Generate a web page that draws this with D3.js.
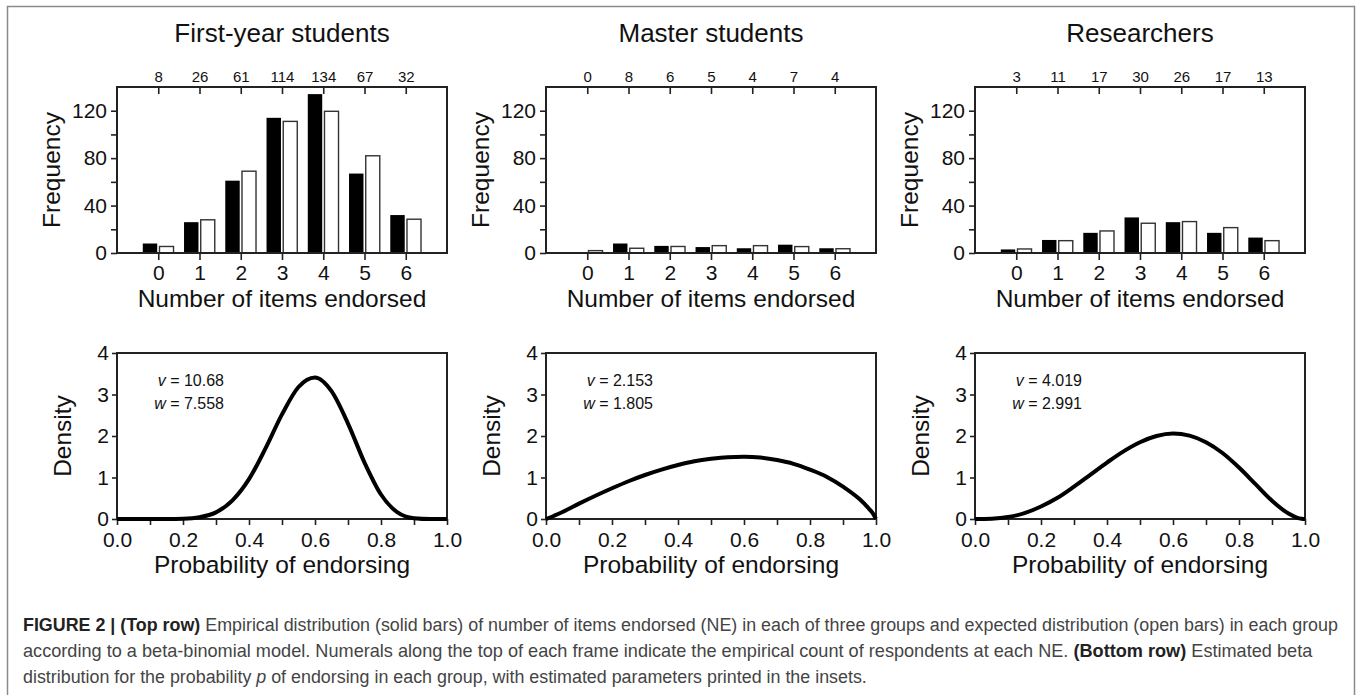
<!DOCTYPE html>
<html>
<head>
<meta charset="utf-8">
<script src="https://cdn.jsdelivr.net/npm/d3@7.9.0/dist/d3.min.js"></script>
<style>
  html, body { margin: 0; padding: 0; background: #fff; }
  svg { display: block; font-family: "Liberation Sans", Arial, Helvetica, sans-serif; }
  .tick line { stroke: #222; stroke-width: 1.6; }
  .tick text { fill: #111; }
</style>
</head>
<body>
<svg id="fig" width="1358" height="695"></svg>
<script>
// values
const groupNames = ['First-year students', 'Master students', 'Researchers'];
const neValues = [0, 1, 2, 3, 4, 5, 6];

const observedFirstYear = [8, 26, 61, 114, 134, 67, 32];
const expectedFirstYear = [5.5, 28, 69, 111, 119.5, 82, 28.5];
const observedMaster = [0, 8, 6, 5, 4, 7, 4];
const expectedMaster = [2, 4, 5.5, 6.2, 6.2, 5.4, 3.6];
const observedResearch = [3, 11, 17, 30, 26, 17, 13];
const expectedResearch = [3.4, 10.4, 18.6, 25.1, 26.5, 21.4, 10.4];

const paramV = ['10.68', '2.153', '4.019'];
const paramW = ['7.558', '1.805', '2.991'];

const pGrid = [0, 0.01, 0.025, 0.05, 0.1, 0.15, 0.2, 0.25, 0.3, 0.35, 0.4, 0.45, 0.5,
  0.55, 0.6, 0.65, 0.7, 0.75, 0.8, 0.85, 0.9, 0.95, 0.975, 0.99, 1];
const densityFirstYear = [0, 0, 0, 0, 0, 0.001, 0.008, 0.044, 0.16, 0.45, 0.96, 1.70, 2.52,
  3.18, 3.41, 3.08, 2.30, 1.36, 0.59, 0.16, 0.02, 0, 0, 0, 0];
const densityMaster = [0, 0.03, 0.08, 0.17, 0.37, 0.56, 0.74, 0.91, 1.06, 1.19, 1.30, 1.39, 1.45,
  1.49, 1.50, 1.48, 1.42, 1.33, 1.19, 1.02, 0.78, 0.48, 0.28, 0.14, 0];
const densityResearch = [0, 0, 0.001, 0.006, 0.046, 0.14, 0.30, 0.51, 0.78, 1.07, 1.36, 1.63, 1.85,
  2.00, 2.06, 2.01, 1.85, 1.59, 1.24, 0.84, 0.44, 0.13, 0.035, 0.006, 0];

const freqTicks = [0, 20, 40, 60, 80, 100, 120];
const densTicks = [0, 1, 2, 3, 4];
const probTicks = [0, 0.1, 0.2, 0.3, 0.4, 0.5, 0.6, 0.7, 0.8, 0.9, 1];

const observedAll = [observedFirstYear, observedMaster, observedResearch];
const expectedAll = [expectedFirstYear, expectedMaster, expectedResearch];
const densityAll = [densityFirstYear, densityMaster, densityResearch];

const svg = d3.select('#fig');
const ink = '#111';
const tickFont = 21;

// outer figure frame
svg.append('rect')
  .attr('x', 7.5).attr('y', 6.5)
  .attr('width', 1347).attr('height', 720)
  .attr('fill', 'none').attr('stroke', '#8a8a8a').attr('stroke-width', 1.5);

const panelLeft = [117, 546, 975];
const plotW = 330;
const histTop = 87, histBottom = 253;
const densTop = 353, densBottom = 519;

groupNames.forEach((name, gi) => {
  const left = panelLeft[gi];
  const x = d3.scaleLinear().domain([-1, 7]).range([left, left + plotW]);
  const y = d3.scaleLinear().domain([0, 140]).range([histBottom, histTop]);
  const g = svg.append('g');

  g.append('text')
    .attr('x', left + plotW / 2).attr('y', 42)
    .attr('text-anchor', 'middle')
    .attr('font-size', 26).attr('fill', ink)
    .text(name);

  // bars
  const obs = observedAll[gi];
  const exp = expectedAll[gi];
  g.selectAll('rect.obs')
    .data(neValues)
    .join('rect')
    .attr('class', 'obs')
    .attr('x', d => x(d - 0.375))
    .attr('width', x(0.35) - x(0))
    .attr('y', d => y(obs[d]))
    .attr('height', d => y(0) - y(obs[d]))
    .attr('fill', '#000');
  g.selectAll('rect.exp')
    .data(neValues)
    .join('rect')
    .attr('class', 'exp')
    .attr('x', d => x(d + 0.03))
    .attr('width', x(0.34) - x(0))
    .attr('y', d => y(exp[d]))
    .attr('height', d => y(0) - y(exp[d]))
    .attr('fill', '#fff')
    .attr('stroke', '#333')
    .attr('stroke-width', 1.4);

  // axes
  const xAxis = g.append('g')
    .attr('transform', `translate(0,${histBottom})`)
    .call(d3.axisBottom(x).tickValues(neValues).tickSize(7).tickPadding(5));
  xAxis.selectAll('text').attr('font-size', tickFont);

  const topAxis = g.append('g')
    .attr('transform', `translate(0,${histTop})`)
    .call(d3.axisTop(x).tickValues(neValues).tickSize(-7).tickPadding(5)
      .tickFormat(d => obs[d]));
  topAxis.selectAll('text').attr('font-size', 15);

  const yAxis = g.append('g')
    .attr('transform', `translate(${left},0)`)
    .call(d3.axisLeft(y).tickValues(freqTicks).tickSize(6).tickPadding(4)
      .tickFormat(d => d % 40 === 0 ? d : ''));
  yAxis.selectAll('text').attr('font-size', tickFont);
  g.selectAll('.domain').remove();

  g.append('rect')
    .attr('x', left).attr('y', histTop)
    .attr('width', plotW).attr('height', histBottom - histTop)
    .attr('fill', 'none').attr('stroke', '#222').attr('stroke-width', 2);

  g.append('text')
    .attr('transform', `translate(${left - 57},${(histTop + histBottom) / 2}) rotate(-90)`)
    .attr('text-anchor', 'middle')
    .attr('font-size', 24.5).attr('fill', ink)
    .text('Frequency');
  g.append('text')
    .attr('x', left + plotW / 2).attr('y', 307)
    .attr('text-anchor', 'middle')
    .attr('font-size', 24.5).attr('fill', ink)
    .text('Number of items endorsed');

  // density panel
  const px = d3.scaleLinear().domain([0, 1]).range([left, left + plotW]);
  const py = d3.scaleLinear().domain([0, 4]).range([densBottom, densTop]);
  const dg = svg.append('g');

  const pxAxis = dg.append('g')
    .attr('transform', `translate(0,${densBottom})`)
    .call(d3.axisBottom(px).tickValues(probTicks).tickSize(6).tickPadding(7)
      .tickFormat(d => Math.round(d * 10) % 2 === 0 ? d.toFixed(1) : ''));
  pxAxis.selectAll('text').attr('font-size', tickFont);
  const pyAxis = dg.append('g')
    .attr('transform', `translate(${left},0)`)
    .call(d3.axisLeft(py).tickValues(densTicks).tickSize(5).tickPadding(3)
      .tickFormat(d => String(d)));
  pyAxis.selectAll('text').attr('font-size', tickFont);
  dg.selectAll('.domain').remove();

  dg.append('rect')
    .attr('x', left).attr('y', densTop)
    .attr('width', plotW).attr('height', densBottom - densTop)
    .attr('fill', 'none').attr('stroke', '#222').attr('stroke-width', 2);

  const dens = densityAll[gi];
  const line = d3.line()
    .x((d, i) => px(pGrid[i]))
    .y(d => py(d))
    .curve(d3.curveMonotoneX);
  dg.append('path')
    .datum(dens)
    .attr('d', line)
    .attr('fill', 'none')
    .attr('stroke', '#000')
    .attr('stroke-width', 4);

  const inset = dg.append('g').attr('font-size', 16).attr('fill', ink).attr('text-anchor', 'end');
  const t1 = inset.append('text').attr('x', left + 107).attr('y', 386);
  t1.append('tspan').attr('font-style', 'italic').text('v');
  t1.append('tspan').text(' = ' + paramV[gi]);
  const t2 = inset.append('text').attr('x', left + 107).attr('y', 409);
  t2.append('tspan').attr('font-style', 'italic').text('w');
  t2.append('tspan').text(' = ' + paramW[gi]);

  dg.append('text')
    .attr('transform', `translate(${left - 46},${(densTop + densBottom) / 2}) rotate(-90)`)
    .attr('text-anchor', 'middle')
    .attr('font-size', 24.5).attr('fill', ink)
    .text('Density');
  dg.append('text')
    .attr('x', left + plotW / 2).attr('y', 573)
    .attr('text-anchor', 'middle')
    .attr('font-size', 24.5).attr('fill', ink)
    .text('Probability of endorsing');
});

// caption
const captionLines = [
  [['FIGURE 2 | (Top row)', 'b'], [' Empirical distribution (solid bars) of number of items endorsed (NE) in each of three groups and expected distribution (open bars) in each group', 'n']],
  [['according to a beta-binomial model. Numerals along the top of each frame indicate the empirical count of respondents at each NE. ', 'n'], ['(Bottom row)', 'b'], [' Estimated beta', 'n']],
  [['distribution for the probability ', 'n'], ['p', 'i'], [' of endorsing in each group, with estimated parameters printed in the insets.', 'n']]
];
const captionBase = [631, 657, 683];
const captionWidth = [1316, 1290, null];

const cap = svg.append('g').attr('font-size', 18).attr('fill', '#444');
let squeeze = 1;
captionLines.forEach((parts, li) => {
  const t = cap.append('text');
  parts.forEach(([s, k]) => {
    const sp = t.append('tspan').text(s);
    if (k === 'b') sp.attr('font-weight', 'bold').attr('fill', '#222');
    if (k === 'i') sp.attr('font-style', 'italic');
  });
  const w = t.node().getComputedTextLength();
  const f = captionWidth[li] ? captionWidth[li] / w : squeeze;
  if (li === 0) squeeze = f;
  t.attr('transform', `translate(23,${captionBase[li]}) scale(${f},1)`);
});
</script>
</body>
</html>
